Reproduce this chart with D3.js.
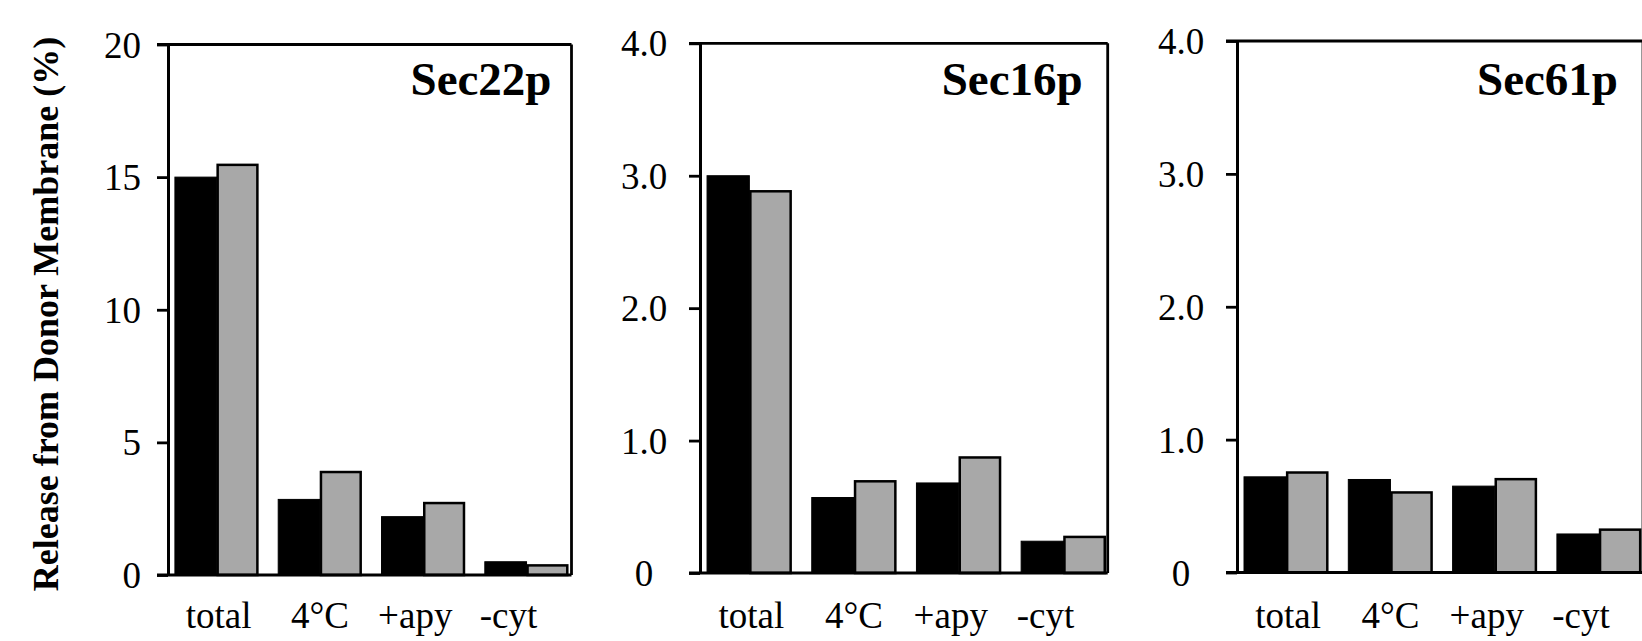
<!DOCTYPE html>
<html><head><meta charset="utf-8">
<script src="https://cdn.jsdelivr.net/npm/d3@7"></script>
<style>body{margin:0;background:#fff;} svg{display:block}</style>
</head><body><svg id="c" width="1642" height="641"></svg>
<script>
// ---- data ----
const categories = ["total", "4°C", "+apy", "-cyt"];
const panelTitles = ["Sec22p", "Sec16p", "Sec61p"];
const blackValuesSec22p = [15.0, 2.85, 2.2, 0.5];
const grayValuesSec22p  = [15.5, 3.92, 2.75, 0.4];
const blackValuesSec16p = [3.0, 0.57, 0.68, 0.24];
const grayValuesSec16p  = [2.89, 0.70, 0.88, 0.28];
const blackValuesSec61p = [0.72, 0.70, 0.65, 0.29];
const grayValuesSec61p  = [0.76, 0.61, 0.71, 0.33];
const yMaxValues = [20, 4, 4];
const yTicksSec22p = [0, 5, 10, 15, 20];
const yTickLabelsSec22p = ["0", "5", "10", "15", "20"];
const yTicksSec = [0, 1, 2, 3, 4];
const yTickLabelsSec = ["0", "1.0", "2.0", "3.0", "4.0"];
const yAxisTitle = "Release from Donor Membrane (%)";

// ---- layout (not data) ----
const FONT = "'Liberation Serif','Times New Roman',serif";
const panels = [
  {left:168, top:44.5, bottom:575, step:103.3, width:403.5, black:blackValuesSec22p, gray:grayValuesSec22p, ticks:yTicksSec22p, labels:yTickLabelsSec22p, anchor:"end", labelX:-27},
  {left:700, top:43.3, bottom:573, step:104.7, width:407.7, black:blackValuesSec16p, gray:grayValuesSec16p, ticks:yTicksSec, labels:yTickLabelsSec, anchor:"middle", labelX:-56},
  {left:1237, top:41, bottom:572.5, step:104.3, width:406, black:blackValuesSec61p, gray:grayValuesSec61p, ticks:yTicksSec, labels:yTickLabelsSec, anchor:"middle", labelX:-56}
];
const labelDx = [2, 0, -8, -18];
const GRAY = "#a8a8a8";

const svg = d3.select("#c");

panels.forEach((p, pi) => {
  const g = svg.append("g");
  const y = d3.scaleLinear().domain([0, yMaxValues[pi]]).range([p.bottom, p.top]);
  const x = d3.scaleBand().domain(categories)
    .range([p.left - 3, p.left - 3 + 4 * p.step])
    .paddingInner(0.192).paddingOuter(0.096);
  const sub = d3.scaleBand().domain(["black", "gray"]).range([0, x.bandwidth()]);
  const right = p.left + p.width;

  // bars
  categories.forEach((c, i) => {
    g.append("rect")
      .attr("x", x(c) + sub("black")).attr("width", sub.bandwidth())
      .attr("y", y(p.black[i])).attr("height", y(0) - y(p.black[i]))
      .attr("fill", "#000").attr("stroke", "#000").attr("stroke-width", 1);
    g.append("rect")
      .attr("x", x(c) + sub("gray") + 1).attr("width", sub.bandwidth() - 2)
      .attr("y", y(p.gray[i]) + 1).attr("height", y(0) - y(p.gray[i]) - 1)
      .attr("fill", GRAY).attr("stroke", "#000").attr("stroke-width", 2.5);
  });

  // frame: top, right, bottom lines
  g.append("line").attr("x1", p.left - 11).attr("x2", right).attr("y1", y(yMaxValues[pi])).attr("y2", y(yMaxValues[pi]))
    .attr("stroke", "#000").attr("stroke-width", 2.8);
  g.append("line").attr("x1", right).attr("x2", right).attr("y1", p.top).attr("y2", p.bottom)
    .attr("stroke", "#000").attr("stroke-width", 2.8);
  g.append("line").attr("x1", p.left - 11).attr("x2", right).attr("y1", y(0)).attr("y2", y(0))
    .attr("stroke", "#000").attr("stroke-width", 3);

  // y axis
  const ax = g.append("g").attr("transform", `translate(${p.left},0)`)
    .call(d3.axisLeft(y).tickValues(p.ticks).tickFormat((d, i) => p.labels[i]).tickSize(11).tickSizeOuter(0));
  ax.select(".domain").attr("stroke", "#000").attr("stroke-width", 3);
  ax.selectAll(".tick line").attr("stroke", "#000").attr("stroke-width", 2.8);
  ax.selectAll(".tick text").attr("x", p.labelX).attr("dy", "0.34em")
    .attr("text-anchor", p.anchor)
    .style("font-family", FONT).style("font-size", "37px").attr("fill", "#000");

  // x labels
  categories.forEach((c, i) => {
    g.append("text").text(c)
      .attr("x", x(c) + x.bandwidth() / 2 + labelDx[i]).attr("y", 628)
      .attr("text-anchor", "middle")
      .style("font-family", FONT).style("font-size", "37px");
  });

  // title
  g.append("text").text(panelTitles[pi])
    .attr("x", right - (pi === 0 ? 20 : 25)).attr("y", 95)
    .attr("text-anchor", "end")
    .style("font-family", FONT).style("font-size", "47px").style("font-weight", "bold");
});

// y axis title
svg.append("text").text(yAxisTitle)
  .attr("transform", "translate(58,314) rotate(-90)")
  .attr("text-anchor", "middle")
  .style("font-family", FONT).style("font-size", "36px").style("font-weight", "bold");
</script>
</body></html>
